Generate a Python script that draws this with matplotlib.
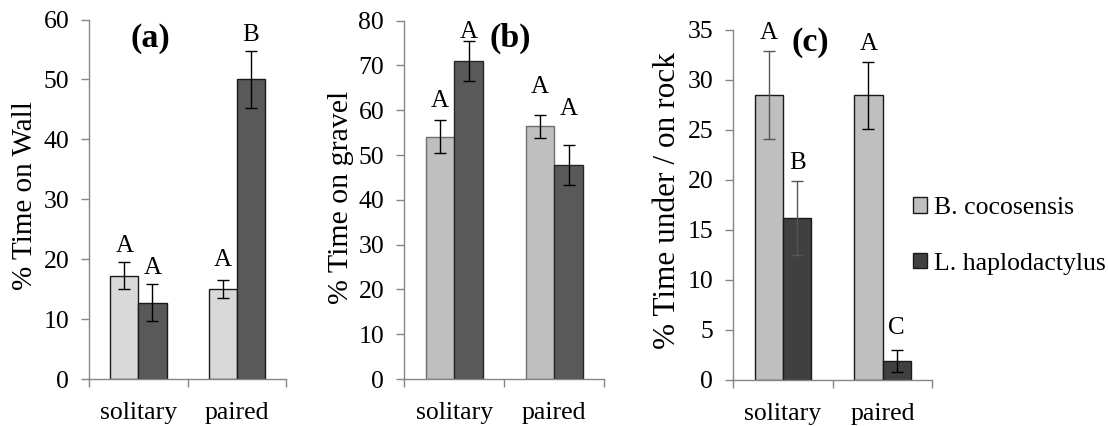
import matplotlib
matplotlib.use("Agg")
import matplotlib.pyplot as plt
from matplotlib.patches import Patch
import numpy as np

plt.rcParams['font.family'] = ['Liberation Serif', 'DejaVu Serif']

categories = ['solitary', 'paired']
series_names = ['B. cocosensis', 'L. haplodactylus']

# Panel (a): % time on wall
a_bc = [17.25, 15.0]
a_bc_err = [2.25, 1.5]
a_lh = [12.7, 50.0]
a_lh_err = [3.1, 4.8]
a_bc_letters = ['A', 'A']
a_lh_letters = ['A', 'B']
a_bc_letter_y = [22.2, 19.9]
a_lh_letter_y = [18.6, 57.4]

# Panel (b): % time on gravel
b_bc = [54.1, 56.4]
b_bc_err = [3.7, 2.6]
b_lh = [71.0, 47.8]
b_lh_err = [4.4, 4.4]
b_bc_letters = ['A', 'A']
b_lh_letters = ['A', 'A']
b_bc_letter_y = [62.0, 65.1]
b_lh_letter_y = [77.4, 60.2]

# Panel (c): % time under / on rock
c_bc = [28.5, 28.5]
c_bc_err = [4.4, 3.35]
c_lh = [16.2, 1.9]
c_lh_err = [3.7, 1.1]
c_bc_letters = ['A', 'A']
c_lh_letters = ['B', 'C']
c_bc_letter_y = [34.7, 33.6]
c_lh_letter_y = [21.7, 5.2]

W, H = 1108, 426
fig = plt.figure(figsize=(W / 100, H / 100), dpi=100)

def px_axes(left, right, bottom, top):
    return fig.add_axes([left / W, (H - bottom) / H, (right - left) / W, (bottom - top) / H])

axis_gray = '#868686'
bw = 0.285

panels = [
    dict(rect=(89.3, 286.0, 379, 19.5), bc=a_bc, bce=a_bc_err, lh=a_lh, lhe=a_lh_err,
         cl='#d9d9d9', cd='#595959', el='#1a1a1a', ed='#1a1a1a',
         errc_bc=['black', 'black'], errc_lh=['black', 'black'],
         ylim=60, yticks=np.arange(0, 61, 10), ylabel='% Time on Wall', ylfs=21,
         lab='(a)', labpos=(0.124, 56.9), ylab_xy=(-0.26, 0.51),
         bcl=a_bc_letters, lhl=a_lh_letters, bcly=a_bc_letter_y, lhly=a_lh_letter_y),
    dict(rect=(404.3, 604.3, 379, 20.6), bc=b_bc, bce=b_bc_err, lh=b_lh, lhe=b_lh_err,
         cl='#bfbfbf', cd='#595959', el='#6e6e6e', ed='#262626',
         errc_bc=['black', 'black'], errc_lh=['black', 'black'],
         ylim=80, yticks=np.arange(0, 81, 10), ylabel='% Time on gravel', ylfs=21.5,
         lab='(b)', labpos=(0.557, 76.0), ylab_xy=(-0.25, 0.507),
         bcl=b_bc_letters, lhl=b_lh_letters, bcly=b_bc_letter_y, lhly=b_lh_letter_y),
    dict(rect=(733.3, 932.3, 380, 30), bc=c_bc, bce=c_bc_err, lh=c_lh, lhe=c_lh_err,
         cl='#bfbfbf', cd='#404040', el='#1a1a1a', ed='#1a1a1a',
         errc_bc=['#555555', 'black'], errc_lh=['#555555', 'black'],
         ylim=35, yticks=np.arange(0, 36, 5), ylabel='% Time under / on rock', ylfs=22.5,
         lab='(c)', labpos=(0.271, 33.8), ylab_xy=(-0.26, 0.514),
         bcl=c_bc_letters, lhl=c_lh_letters, bcly=c_bc_letter_y, lhly=c_lh_letter_y),
]

x = np.arange(len(categories))
for p in panels:
    ax = px_axes(*p['rect'])
    ax.bar(x - bw / 2, p['bc'], bw, color=p['cl'], edgecolor=p['el'], linewidth=1.0, zorder=2)
    ax.bar(x + bw / 2, p['lh'], bw, color=p['cd'], edgecolor=p['ed'], linewidth=1.0, zorder=2)
    for i in range(len(categories)):
        ax.errorbar(x[i] - bw / 2, p['bc'][i], yerr=p['bce'][i], fmt='none',
                    ecolor=p['errc_bc'][i], elinewidth=1.0, capsize=4, capthick=1.0, zorder=3)
        ax.errorbar(x[i] + bw / 2, p['lh'][i], yerr=p['lhe'][i], fmt='none',
                    ecolor=p['errc_lh'][i], elinewidth=1.0, capsize=4, capthick=1.0, zorder=3)
        ax.text(x[i] - bw / 2, p['bcly'][i], p['bcl'][i], ha='center', va='center', fontsize=18)
        ax.text(x[i] + bw / 2, p['lhly'][i], p['lhl'][i], ha='center', va='center', fontsize=18)
    ax.text(p['labpos'][0], p['labpos'][1], p['lab'], ha='center', va='center',
            fontsize=24.5, fontweight='bold')
    ax.set_xlim(-0.5, len(categories) - 0.5)
    ax.set_ylim(0, p['ylim'])
    ax.set_yticks(p['yticks'])
    ax.set_xticks(x)
    ax.set_xticklabels(categories)
    ax.set_xticks(np.arange(-0.5, len(categories), 1.0), minor=True)
    ax.tick_params(axis='x', which='major', length=0, pad=16.5, labelsize=18.5)
    ax.tick_params(axis='x', which='minor', length=5.5, width=1, color=axis_gray, direction='out')
    ax.tick_params(axis='y', which='major', length=5.5, width=1, color=axis_gray,
                   direction='out', pad=9, labelsize=18.5)
    for s in ['top', 'right']:
        ax.spines[s].set_visible(False)
    for s in ['left', 'bottom']:
        ax.spines[s].set_color(axis_gray)
        ax.spines[s].set_linewidth(1.0)
    ax.set_ylabel(p['ylabel'], fontsize=p['ylfs'])
    ax.yaxis.set_label_coords(*p['ylab_xy'])
    ax.patch.set_visible(False)

handles = [Patch(facecolor='#bfbfbf', edgecolor='#1a1a1a', linewidth=1.0),
           Patch(facecolor='#404040', edgecolor='#1a1a1a', linewidth=1.0)]
fig.legend(handles, series_names, loc='center left', bbox_to_anchor=(908 / W, (H - 236) / H),
           frameon=False, fontsize=18.5, handlelength=0.55, handleheight=0.55,
           handletextpad=0.25, labelspacing=1.3, borderaxespad=0, borderpad=0.2)

fig.savefig('out.png', dpi=100)
